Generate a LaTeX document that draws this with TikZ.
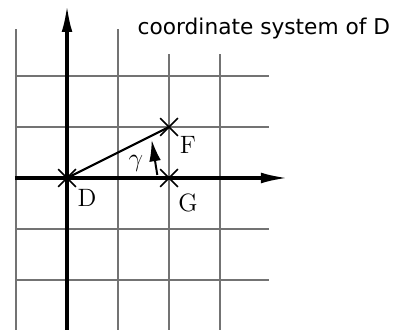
\documentclass[tikz,border=0pt]{standalone}
\usepackage{fontspec}
\newfontfamily\titlefont{DejaVu Sans}
\usetikzlibrary{arrows.meta,positioning,shapes.misc}
\definecolor{gridgray}{HTML}{737373}
\tikzset{gridline/.style={draw=gridgray,line width=1.1pt},axisline/.style={line width=1.7pt,black,-{Latex[length=15pt,width=6pt]}},crossmark/.style={cross out,draw=black,line width=0.9pt,minimum size=9pt,inner sep=0pt},ptlabel/.style={font=\fontsize{14}{16}\selectfont,inner sep=0pt},titlelabel/.style={font=\titlefont\fontsize{12.1}{14}\selectfont,inner sep=0pt}}
\begin{document}
\begin{tikzpicture}[x=1cm,y=1cm]
\useasboundingbox (-1.314,-3.059) rectangle (6.431,3.49);
% grid
\foreach \gx/\gtop in {-1/2.92,1/2.92,2/2.43,3/2.43}
  \draw[gridline] (\gx,-2.98)--(\gx,\gtop);
\foreach \gy in {-2,-1,1,2}
  \draw[gridline] (-1.02,\gy)--(3.96,\gy);
% axes
\draw[axisline] (-1.02,0)--(4.33,0);
\draw[axisline] (0,-2.98)--(0,3.39);
% points
\coordinate (D) at (0,0);
\coordinate (F) at (2,1);
\coordinate (G) at (2,0);
\draw[line width=1.2pt] (D)--(F);
\node[crossmark] (Dmark) at (D) {};
\node[crossmark] (Fmark) at (F) {};
\node[crossmark] (Gmark) at (G) {};
\node[ptlabel] (Dlabel) at (0.39,-0.39) {D};
\node[ptlabel] (Flabel) at (2.37,0.65) {F};
\node[ptlabel] (Glabel) at (2.37,-0.49) {G};
% angle
\coordinate (gammaA) at (1.77,0.06);
\coordinate (gammaB) at (1.66,0.75);
\draw[line width=1.1pt,-{Latex[length=12pt,width=6.5pt]}] (gammaA)--(gammaB);
\node[ptlabel] (gammalabel) at (1.35,0.29) {$\gamma$};
\node[titlelabel] (title) at (3.86,2.94) {coordinate system of D};
\end{tikzpicture}
\end{document}
